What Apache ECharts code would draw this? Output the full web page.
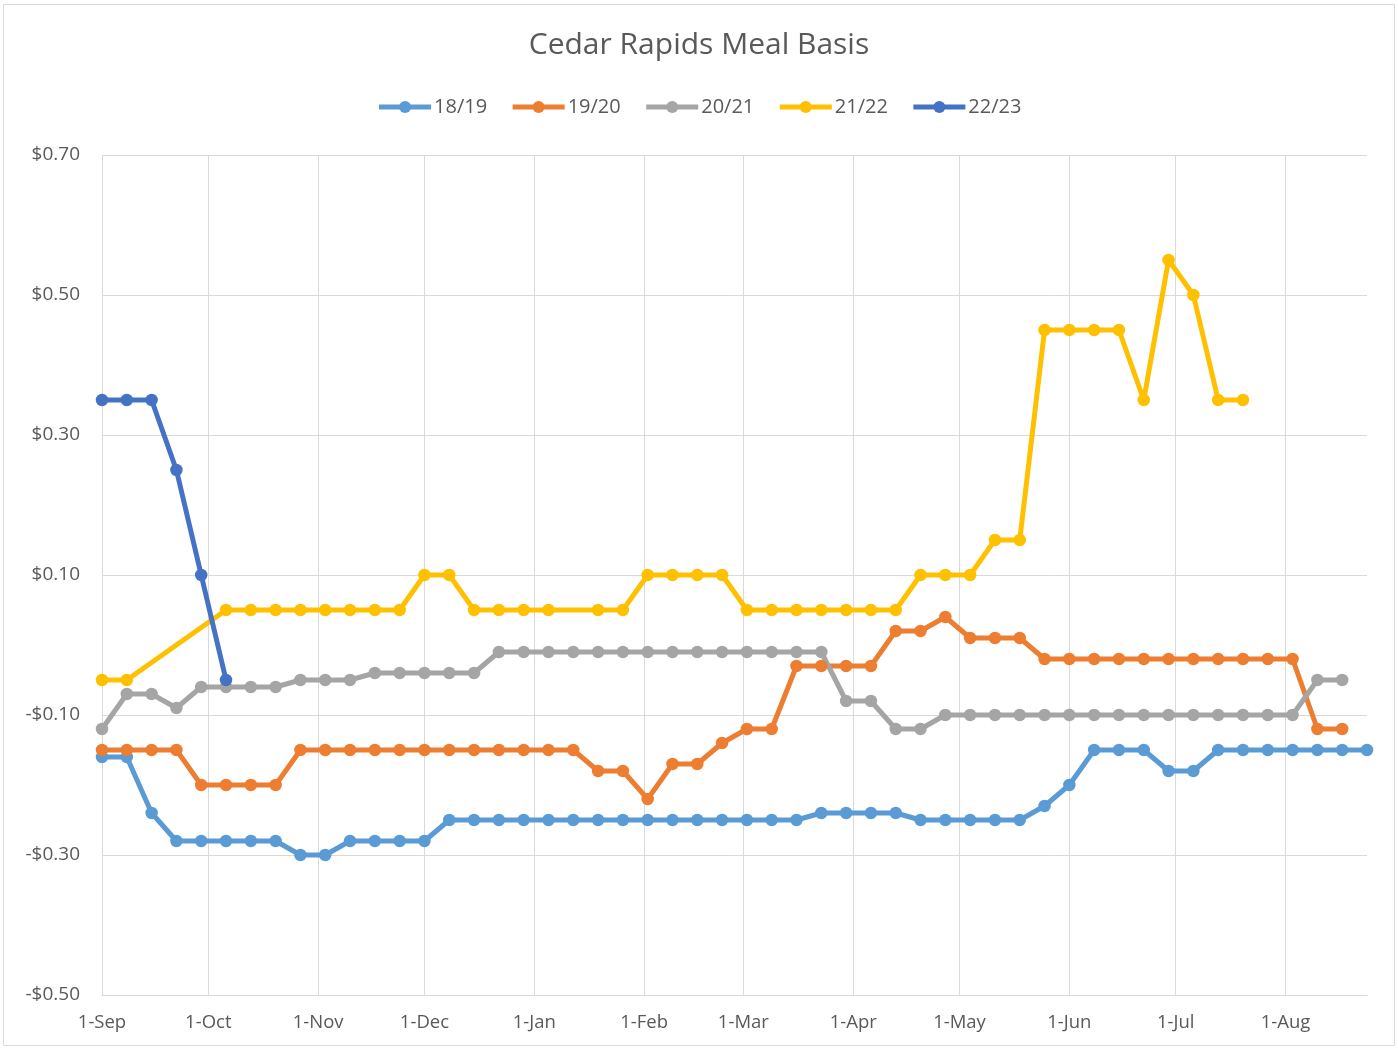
<!DOCTYPE html>
<html>
<head>
<meta charset="utf-8">
<style>
html,body{margin:0;padding:0;background:#fff;}
#chart{width:1398px;height:1049px;}
</style>
<script src="https://cdn.jsdelivr.net/npm/echarts@6/dist/echarts.min.js"></script>
</head>
<body>
<div id="chart"></div>
<script>
// Weekly observation dates (x categories)
var weekDates = [
  '2022-09-01','2022-09-08','2022-09-15','2022-09-22','2022-09-29',
  '2022-10-06','2022-10-13','2022-10-20','2022-10-27',
  '2022-11-03','2022-11-10','2022-11-17','2022-11-24',
  '2022-12-01','2022-12-08','2022-12-15','2022-12-22','2022-12-29',
  '2023-01-05','2023-01-12','2023-01-19','2023-01-26',
  '2023-02-02','2023-02-09','2023-02-16','2023-02-23',
  '2023-03-02','2023-03-09','2023-03-16','2023-03-23','2023-03-30',
  '2023-04-06','2023-04-13','2023-04-20','2023-04-27',
  '2023-05-04','2023-05-11','2023-05-18','2023-05-25',
  '2023-06-01','2023-06-08','2023-06-15','2023-06-22','2023-06-29',
  '2023-07-06','2023-07-13','2023-07-20','2023-07-27',
  '2023-08-03','2023-08-10','2023-08-17','2023-08-24'
];

var seriesNames = ['18/19','19/20','20/21','21/22','22/23'];

var s1819 = [-0.16,-0.16,-0.24,-0.28,-0.28,-0.28,-0.28,-0.28,-0.30,-0.30,
  -0.28,-0.28,-0.28,-0.28,-0.25,-0.25,-0.25,-0.25,-0.25,-0.25,
  -0.25,-0.25,-0.25,-0.25,-0.25,-0.25,-0.25,-0.25,-0.25,-0.24,
  -0.24,-0.24,-0.24,-0.25,-0.25,-0.25,-0.25,-0.25,-0.23,-0.20,
  -0.15,-0.15,-0.15,-0.18,-0.18,-0.15,-0.15,-0.15,-0.15,-0.15,
  -0.15,-0.15];

var s1920 = [-0.15,-0.15,-0.15,-0.15,-0.20,-0.20,-0.20,-0.20,-0.15,-0.15,
  -0.15,-0.15,-0.15,-0.15,-0.15,-0.15,-0.15,-0.15,-0.15,-0.15,
  -0.18,-0.18,-0.22,-0.17,-0.17,-0.14,-0.12,-0.12,-0.03,-0.03,
  -0.03,-0.03,0.02,0.02,0.04,0.01,0.01,0.01,-0.02,-0.02,
  -0.02,-0.02,-0.02,-0.02,-0.02,-0.02,-0.02,-0.02,-0.02,-0.12,
  -0.12,null];

var s2021 = [-0.12,-0.07,-0.07,-0.09,-0.06,-0.06,-0.06,-0.06,-0.05,-0.05,
  -0.05,-0.04,-0.04,-0.04,-0.04,-0.04,-0.01,-0.01,-0.01,-0.01,
  -0.01,-0.01,-0.01,-0.01,-0.01,-0.01,-0.01,-0.01,-0.01,-0.01,
  -0.08,-0.08,-0.12,-0.12,-0.10,-0.10,-0.10,-0.10,-0.10,-0.10,
  -0.10,-0.10,-0.10,-0.10,-0.10,-0.10,-0.10,-0.10,-0.10,-0.05,
  -0.05,null];

var s2122 = [-0.05,-0.05,null,null,null,0.05,0.05,0.05,0.05,0.05,
  0.05,0.05,0.05,0.10,0.10,0.05,0.05,0.05,0.05,null,
  0.05,0.05,0.10,0.10,0.10,0.10,0.05,0.05,0.05,0.05,
  0.05,0.05,0.05,0.10,0.10,0.10,0.15,0.15,0.45,0.45,
  0.45,0.45,0.35,0.55,0.50,0.35,0.35,null,null,null,
  null,null];

var s2223 = [0.35,0.35,0.35,0.25,0.10,-0.05];

var yTickValues = [-0.5,-0.3,-0.1,0.1,0.3,0.5,0.7];
var yTickLabels = ['-$0.50','-$0.30','-$0.10','$0.10','$0.30','$0.50','$0.70'];

var xTickDates = ['2022-09-01','2022-10-01','2022-11-01','2022-12-01','2023-01-01','2023-02-01',
  '2023-03-01','2023-04-01','2023-05-01','2023-06-01','2023-07-01','2023-08-01'];
var xTickLabels = ['1-Sep','1-Oct','1-Nov','1-Dec','1-Jan','1-Feb','1-Mar','1-Apr','1-May','1-Jun','1-Jul','1-Aug'];

var colors = ['#5B9BD5','#ED7D31','#A5A5A5','#FFC000','#4472C4'];
var allValues = [s1819, s1920, s2021, s2122, s2223];

var FONT = '"Open Sans", "Noto Sans", sans-serif';

// convert a date string to a day number counted from the first date
function dayNum(s){
  var p = s.split('-');
  var t = Date.UTC(+p[0], +p[1] - 1, +p[2]);
  var p0 = weekDates[0].split('-');
  return Math.round((t - Date.UTC(+p0[0], +p0[1] - 1, +p0[2])) / 86400000);
}
var weekDays = weekDates.map(dayNum);
var xTickDays = xTickDates.map(dayNum);

function pairs(vals){
  return vals.map(function(v,i){ return [weekDays[i], v == null ? '-' : v]; });
}

var series = seriesNames.map(function(name, k){
  return {
    name: name,
    type: 'line',
    data: pairs(allValues[k]),
    connectNulls: true,
    symbol: 'circle',
    symbolSize: 12.5,
    showAllSymbol: true,
    lineStyle: {width: 5, color: colors[k]},
    itemStyle: {color: colors[k]},
    emphasis: {disabled: true},
    animation: false
  };
});

var chart = echarts.init(document.getElementById('chart'), null, {renderer: 'canvas'});
chart.setOption({
  backgroundColor: '#ffffff',
  color: colors,
  graphic: [{
    type: 'rect', silent: true, z: -10,
    shape: {x: 3.5, y: 4.5, width: 1391, height: 1041},
    style: {fill: 'none', stroke: '#d9d9d9', lineWidth: 1}
  }],
  title: {
    text: 'Cedar Rapids Meal Basis',
    left: 'center', top: 25,
    textStyle: {fontFamily: FONT, fontSize: 30, fontWeight: 'normal', color: '#595959'}
  },
  legend: {
    top: 92, left: 'center',
    itemWidth: 52, itemHeight: 15, itemGap: 23,
    lineStyle: {width: 5},
    textStyle: {fontFamily: FONT, fontSize: 20, color: '#595959', padding: [0, 0, 0, -2]},
    data: seriesNames
  },
  grid: {left: 102, right: 31, top: 155, bottom: 54, containLabel: false},
  xAxis: [{
    type: 'value',
    min: weekDays[0], max: weekDays[weekDays.length - 1],
    axisLine: {show: false},
    axisTick: {show: false, customValues: xTickDays},
    axisLabel: {
      customValues: xTickDays,
      margin: 18,
      fontFamily: FONT, fontSize: 18.5, color: '#595959',
      formatter: function(v){
        var i = xTickDays.indexOf(v);
        return i >= 0 ? xTickLabels[i] : '';
      }
    },
    splitLine: {show: true, lineStyle: {color: '#d9d9d9', width: 1}}
  }, {
    type: 'value',
    min: weekDays[0], max: weekDays[weekDays.length - 1],
    position: 'bottom',
    axisLine: {show: true, onZero: true, lineStyle: {color: '#d9d9d9', width: 1}},
    axisTick: {show: false},
    axisLabel: {show: false},
    splitLine: {show: false}
  }],
  yAxis: {
    type: 'value',
    min: -0.5, max: 0.7,
    axisLine: {show: false},
    axisTick: {show: false, customValues: yTickValues},
    axisLabel: {
      customValues: yTickValues,
      margin: 22,
      fontFamily: FONT, fontSize: 19, color: '#595959',
      formatter: function(v){
        for (var i = 0; i < yTickValues.length; i++) { if (Math.abs(yTickValues[i] - v) < 1e-9) return yTickLabels[i]; }
        return '';
      }
    },
    splitLine: {show: true, lineStyle: {color: '#d9d9d9', width: 1}}
  },
  series: series
});
</script>
</body>
</html>
